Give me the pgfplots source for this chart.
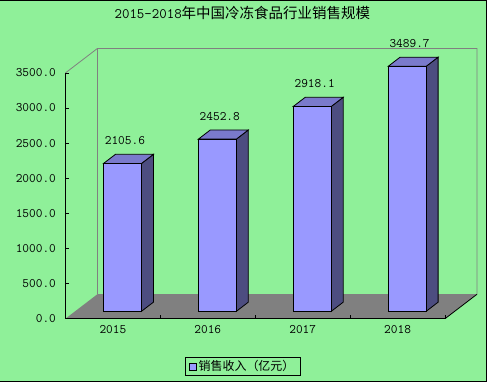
\documentclass[border=0pt]{standalone}
\usepackage{pgfplots}
\pgfplotsset{compat=1.18}
\usepackage{fontspec}
\newfontfamily\cjk{Noto Sans CJK SC}
\definecolor{bg}{RGB}{143,240,153}
\definecolor{barfront}{RGB}{153,153,255}
\definecolor{bartop}{RGB}{122,122,204}
\definecolor{barside}{RGB}{77,77,128}
\definecolor{floorc}{RGB}{128,128,128}
\definecolor{wallc}{RGB}{128,128,128}
\begin{document}
\begin{tikzpicture}[x=1pt,y=1pt]
\fill[bg] (0,0) rectangle (487,382);
\draw[black, line width=1pt] (0,381.5) -- (486.5,381.5) -- (486.5,0.5) -- (0,0.5);
\begin{axis}[
  at={(65pt,63pt)}, anchor=south west,
  scale only axis, width=380pt, height=246pt,
  xmin=0, xmax=4, ymin=0, ymax=3500,
  clip=false, axis on top,
  axis x line*=bottom, axis y line*=left,
  axis line style={-, black, line width=0.8pt},
  xtick={0.5,1.5,2.5,3.5},
  xticklabels={2015,2016,2017,2018},
  minor xtick={0,1,2,3,4},
  tick align=inside,
  major x tick style={draw=none},
  minor tick length=4pt,
  major tick length=4pt,
  tick style={black, line width=0.8pt},
  ytick={0,500,...,3500},
  yticklabel style={xshift=-6pt},
  xticklabel style={yshift=-3pt},
  ticklabel style={font=\fontsize{13}{15}\selectfont\ttfamily},
  /pgf/number format/.cd, fixed, fixed zerofill, precision=1, 1000 sep={}, assume math mode=true,
  /pgfplots/.cd,
  title={\ttfamily 2015-2018\cjk 年中国冷冻食品行业销售规模},
  title style={at={(0.466,1)}, anchor=center, yshift=54pt, font=\fontsize{14.5}{16}\selectfont, inner sep=0pt},
  legend style={at={(0.467,-0.195)}, anchor=center, draw=black, line width=0.8pt, fill=bg,
    font=\cjk\fontsize{12}{14}\selectfont, inner xsep=4pt, inner ysep=1pt},
  legend image code/.code={\draw[fill=barfront,draw=black,line width=0.6pt] (0pt,-3.5pt) rectangle (7pt,3.5pt);},
]
% floor
\addplot[fill=floorc, draw=none, forget plot] coordinates {(0,0) (4,0) (4.3368,348) (0.3368,348)} -- cycle;
\addplot[black, line width=0.8pt, forget plot] coordinates {(4,0) (4.3368,348)};
% back wall outline
\addplot[wallc, line width=0.8pt, forget plot] coordinates {(0,3500) (0.3368,3848) (4.3368,3848) (4.3368,348)};
\addplot[wallc, line width=0.8pt, forget plot] coordinates {(0.3368,348) (0.3368,3848)};
% bar 2015
\addplot[fill=barside, draw=black, line width=0.8pt, forget plot] coordinates {(0.801,104.4) (0.801,2210.0) (0.927,2340.5) (0.927,234.9)} -- cycle;
\addplot[fill=bartop, draw=black, line width=0.8pt, forget plot] coordinates {(0.401,2210.0) (0.801,2210.0) (0.927,2340.5) (0.527,2340.5)} -- cycle;
\addplot[fill=barfront, draw=black, line width=0.8pt, forget plot] coordinates {(0.401,104.4) (0.801,104.4) (0.801,2210.0) (0.401,2210.0)} -- cycle;
% bar 2016
\addplot[fill=barside, draw=black, line width=0.8pt, forget plot] coordinates {(1.801,104.4) (1.801,2557.2) (1.927,2687.7) (1.927,234.9)} -- cycle;
\addplot[fill=bartop, draw=black, line width=0.8pt, forget plot] coordinates {(1.401,2557.2) (1.801,2557.2) (1.927,2687.7) (1.527,2687.7)} -- cycle;
\addplot[fill=barfront, draw=black, line width=0.8pt, forget plot] coordinates {(1.401,104.4) (1.801,104.4) (1.801,2557.2) (1.401,2557.2)} -- cycle;
% bar 2017
\addplot[fill=barside, draw=black, line width=0.8pt, forget plot] coordinates {(2.801,104.4) (2.801,3022.5) (2.927,3153.0) (2.927,234.9)} -- cycle;
\addplot[fill=bartop, draw=black, line width=0.8pt, forget plot] coordinates {(2.401,3022.5) (2.801,3022.5) (2.927,3153.0) (2.527,3153.0)} -- cycle;
\addplot[fill=barfront, draw=black, line width=0.8pt, forget plot] coordinates {(2.401,104.4) (2.801,104.4) (2.801,3022.5) (2.401,3022.5)} -- cycle;
% bar 2018
\addplot[fill=barside, draw=black, line width=0.8pt, forget plot] coordinates {(3.801,104.4) (3.801,3594.1) (3.927,3724.6) (3.927,234.9)} -- cycle;
\addplot[fill=bartop, draw=black, line width=0.8pt, forget plot] coordinates {(3.401,3594.1) (3.801,3594.1) (3.927,3724.6) (3.527,3724.6)} -- cycle;
\addplot[fill=barfront, draw=black, line width=0.8pt, forget plot] coordinates {(3.401,104.4) (3.801,104.4) (3.801,3594.1) (3.401,3594.1)} -- cycle;
% value labels
\addplot[draw=none, mark=none, forget plot, nodes near coords, point meta=y,
  nodes near coords={\pgfmathprintnumber[fixed,fixed zerofill,precision=1,1000 sep={},assume math mode=true]{\pgfplotspointmeta}},
  nodes near coords style={font=\fontsize{13}{15}\selectfont\ttfamily, anchor=center, xshift=12pt, yshift=30pt, inner sep=0pt}]
  coordinates {(0.5,2105.6) (1.5,2452.8) (2.5,2918.1) (3.5,3489.7)};
\addlegendimage{legend image code/.code={\draw[fill=barfront,draw=black,line width=0.6pt] (0pt,-3.5pt) rectangle (7pt,3.5pt);}}
\addlegendentry{销售收入（亿元）}
\end{axis}
\end{tikzpicture}
\end{document}
